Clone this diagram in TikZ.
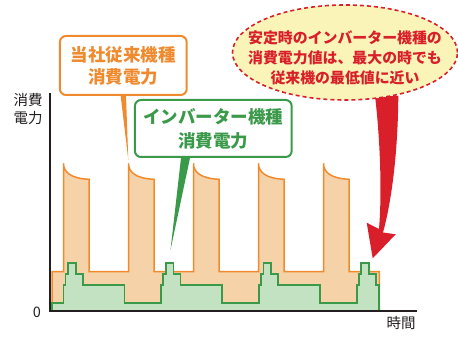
\documentclass[tikz,border=0pt]{standalone}
\usepackage{fontspec}
\newfontfamily\jpfont{Noto Sans CJK JP}
\usetikzlibrary{shapes.geometric,calc}
\definecolor{oldline}{HTML}{F08A2E}
\definecolor{oldfill}{HTML}{F6D2A8}
\definecolor{newline}{HTML}{3A9A4A}
\definecolor{newfill}{HTML}{C2E2C2}
\definecolor{notered}{HTML}{D9202A}
\definecolor{notefill}{HTML}{FBF4B9}
\definecolor{inkgray}{HTML}{231F20}
\begin{document}
\begin{tikzpicture}[x=1pt,y=-1pt]
\tikzset{
old box/.style={draw=oldline,line width=2pt,rounded corners=6pt,fill=white,minimum width=126.7pt,minimum height=59pt,inner sep=0pt,align=center,text=oldline,font=\jpfont\bfseries\fontsize{17.5}{22}\selectfont},
new box/.style={draw=newline,line width=2pt,rounded corners=6pt,fill=white,minimum width=156.7pt,minimum height=57pt,inner sep=0pt,align=center,text=newline,font=\jpfont\bfseries\fontsize{17.5}{24}\selectfont},
note ellipse/.style={ellipse,draw=notered,line width=1.6pt,dash pattern=on 4pt off 3pt,fill=notefill,minimum width=225pt,minimum height=95pt,inner sep=0pt},
note text/.style={align=center,text=notered,font=\jpfont\bfseries\fontsize{14.9}{20}\selectfont},
axis label/.style={text=inkgray,align=center,inner sep=0pt,font=\jpfont\fontsize{14.5}{18}\selectfont},
axis line/.style={draw=inkgray,line width=1.5pt}
}
\useasboundingbox (0,0) rectangle (458,344);

% old model: pulses
\filldraw[fill=oldfill,draw=oldline,line width=1.5pt,line join=miter]
  (52,311) -- (52,271.7)
  \foreach \p in {63.5,128.5,193.5,258.5,323.5}{
    -- (\p,271.7) -- (\p,163.3) .. controls (\p,172) and (\p+7,178.5) .. (\p+25.7,179.3) -- (\p+25.7,271.7)
  }
  -- (379.3,271.7) -- (379.3,311) -- cycle;

% inverter model: steps
\filldraw[fill=newfill,draw=newline,line width=1.8pt]
  (52,311) -- (52,303.3)
  \foreach \b in {63.5,161.2,258.9}{
    -- (\b,303.3) -- (\b,285) -- (\b+2,285) -- (\b+2,274.3) -- (\b+4.5,274.3) -- (\b+4.5,263.3)
    -- (\b+12.2,263.3) -- (\b+12.2,274.3) -- (\b+19.3,274.3) -- (\b+19.3,285) -- (\b+61,285) -- (\b+61,303.3)
  }
  -- (356.6,303.3) -- (356.6,285) -- (358.6,285) -- (358.6,274.3) -- (361.1,274.3) -- (361.1,263.3)
  -- (368.8,263.3) -- (368.8,274.3) -- (375.9,274.3) -- (375.9,285) -- (379.3,285) -- (379.3,311) -- cycle;

% axes
\coordinate (ytop) at (50,93);
\coordinate (origin) at (50,311);
\coordinate (xend) at (417,311);
\draw[axis line] (ytop) -- (origin) -- (xend);
\node[axis label] (ylab) at (28,109) {消費\\電力};
\node[axis label] (zero) at (37,312) {0};
\node[axis label] (xlab) at (401,323) {時間};

% callouts
\node[old box] (old) at (123.3,65.5) {当社従来機種\\消費電力};
\coordinate (old tip) at (128.3,160);
\fill[oldline] ($(old.south)+(-2.6,0)$) -- (old tip) -- ($(old.south)+(2.7,0)$) -- cycle;

\node[new box] (new) at (213.3,128.5) {インバーター機種\\消費電力};
\coordinate (new tip) at (170.5,250);
\fill[newline] ($(new.south)+(-32.3,0)$) -- (new tip) -- ($(new.south)+(-23.3,0)$) -- cycle;

% note with arrow
\coordinate (arrow tip) at (372.7,258.3);
\fill[notered] (375,96) .. controls (378,120) and (383,180) .. (379,229)
  -- (366.7,222.7) -- (arrow tip) -- (395.7,234.3) -- (383,232.5)
  .. controls (392,200) and (398,150) .. (398.3,96) -- cycle;
\node[note ellipse] (note) at (345,52.5) {};
\node[note text] (note txt) at ($(note.center)+(0,5)$) {安定時のインバーター機種の\\消費電力値は、最大の時でも\\従来機の最低値に近い};
\end{tikzpicture}
\end{document}
